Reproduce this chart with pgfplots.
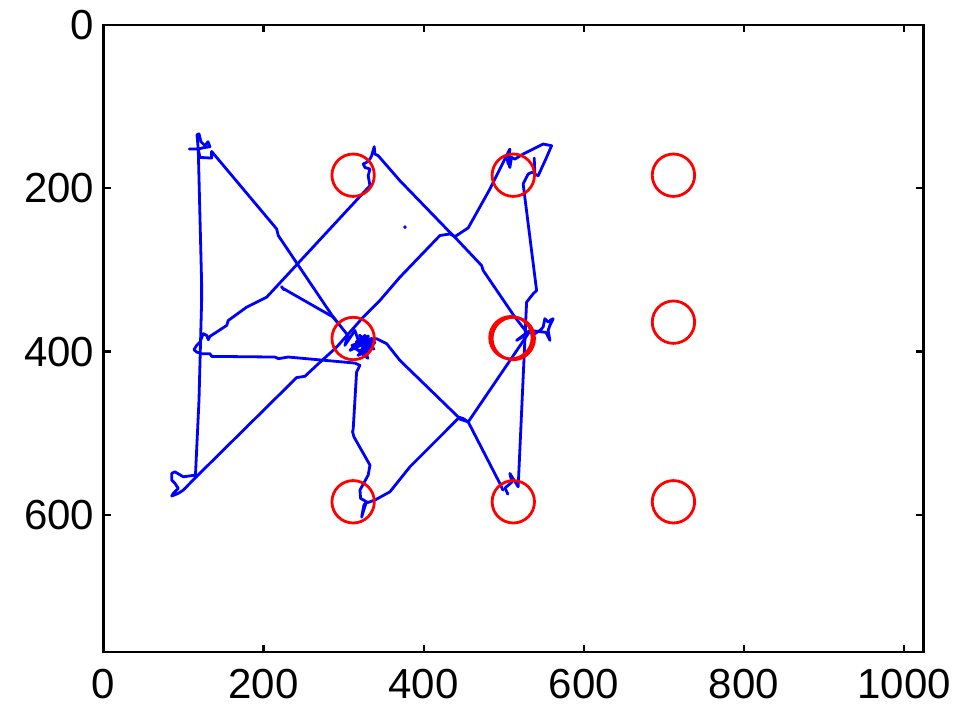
\documentclass[border=0pt]{standalone}
\usepackage{fontspec}
\setmainfont{Liberation Sans}
\usepackage{pgfplots}
\pgfplotsset{compat=1.18}

\begin{document}
\begin{tikzpicture}
\begin{axis}[
  scale only axis,
  width=410pt, height=313.5pt,
  xmin=0, xmax=1024, ymin=0, ymax=768,
  y dir=reverse,
  xtick={0,200,...,1000}, ytick={0,200,400,600},
  tick align=inside,
  major tick length=3.7pt,
  xtick pos=both, ytick pos=both,
  axis line style={line width=1.3pt},
  tick style={line width=1.1pt, black},
  ticklabel style={font=\fontsize{21}{25}\selectfont},
  /pgf/number format/assume math mode=true,
  /pgf/number format/1000 sep={},
  xticklabel style={yshift=-5pt},
  yticklabel style={xshift=-1pt},
  clip=false,
  every axis plot/.append style={line join=round, line cap=round},
]
% target circles
\addplot[only marks, mark=o, mark size=10.6pt, red, mark options={line width=1.4pt}]
  coordinates {(312,184) (512,184) (712,184) (312,384) (512,384) (509,383) (712,364) (312,584) (512,584) (712,584)};

% gaze trace: top-left, down the left side, back up through the centre to the top of column two and down
\addplot[blue, line width=1.4pt] coordinates {
(107.4,152.0) (118.6,152.0) (117.0,134.5) (119.5,133.3) (122.0,143.0) (127.0,147.9)
(130.7,143.0) (133.2,149.1) (124.5,150.4) (118.6,152.0)
(122.8,317.0) (122.8,337.4) (119.5,459.7) (115.1,551.3)
(99.9,553.4) (89.5,547.3) (85.4,549.3) (85.4,557.5) (89.5,561.5) (93.6,567.6)
(87.4,573.7) (85.4,577.0) (93.6,573.7) (99.9,569.7)
(114.5,555.0) (162.3,508.6) (241.4,431.9) (251.8,430.3) (266.4,416.9) (291.4,394.5)
(324.6,357.8) (345.4,337.4) (370.4,308.9) (420.3,257.9) (432.8,255.9) (439.1,259.2)
(455.7,248.5) (482.8,200.9) (507.7,152.0)
(505.6,170.3) (503.6,160.1) (507.7,174.5) (509.8,162.2) (514.0,164.2) (524.3,158.1)
(549.3,145.8) (559.8,147.9) (553.5,162.2) (543.1,184.6) (538.9,182.5) (538.1,163.0)
(538.9,180.6) (534.8,180.6) (530.6,182.5) (524.3,194.7)
(541.1,325.2) (536.8,329.2) (528.6,339.5) (518.1,565.6)
(507.7,549.3) (510.2,559.9) (501.5,567.2) (505.2,574.6)
};

% top-left cluster into the centre circle
\addplot[blue, line width=1.4pt] coordinates {
(118.6,152.0) (120.7,162.2) (135.3,163.0) (135.3,154.9) (216.5,249.8) (218.5,257.9)
(287.1,357.8) (295.5,368.0)
};

% short stroke into the centre circle
\addplot[blue, line width=1.4pt] coordinates {
(222.5,320.5) (226.0,324.5) (224.0,322.4) (287.1,357.8) (295.5,368.0)
};

% fixation scribble in the centre circle, then on to the bottom of column two
\addplot[blue, line width=1.4pt] coordinates {
(295.5,368.0) (305.5,380.2) (301.7,392.4) (314.2,374.1) (320.5,392.4) (308.0,398.5)
(326.7,380.2) (333.0,398.5) (318.0,404.6) (339.2,388.8) (323.0,386.3) (330.4,408.3)
(310.5,392.4) (335.4,383.9) (327.0,395.0) (316.0,388.0) (331.0,381.0) (322.0,399.0)
(336.0,392.0) (319.0,384.0) (329.0,402.0) (313.0,396.0) (334.0,387.0) (325.0,391.0)
(338.0,397.0) (320.0,380.0) (328.0,386.0) (341.3,384.2)
(353.8,390.3) (370.4,410.8) (443.2,480.1) (449.4,482.0) (455.7,486.2)
(495.2,561.5) (499.0,569.7)
};

% loop through column one and column two
\addplot[blue, line width=1.4pt] coordinates {
(530.6,378.1) (455.7,486.2) (443.2,482.0) (382.9,541.2) (357.9,571.8) (339.2,581.9)
(328.0,585.6) (322.6,602.7) (325.5,588.0) (328.8,584.0) (321.3,579.8) (320.5,569.7)
(330.8,551.3) (333.0,539.1) (313.0,504.5) (311.3,498.4) (312.1,494.3) (316.3,425.1)
(320.5,416.9) (314.2,414.1) (231.0,406.7) (218.5,408.7) (214.4,406.7) (135.3,405.9)
(133.2,402.6) (122.8,402.6) (116.6,400.6) (113.2,397.7) (116.6,392.4) (120.7,388.4)
(124.8,378.1) (129.1,380.2) (131.1,385.5) (133.2,381.4) (154.1,368.0) (156.1,361.9)
(179.0,345.6) (204.0,333.4) (333.0,196.8) (330.8,184.6) (333.0,176.4) (326.7,174.5)
(324.6,170.3) (328.8,168.3) (333.0,164.2) (335.1,160.1) (338.3,149.1) (339.2,158.1)
(343.3,160.1) (370.4,190.7) (430.7,251.8) (439.1,260.0) (472.4,294.6) (474.4,300.7)
(514.0,357.8) (528.6,376.2) (538.9,378.1) (545.2,374.1) (549.3,370.0) (551.4,359.8)
(555.5,363.9) (559.8,360.6) (561.8,359.8) (557.7,368.0) (555.5,374.1) (557.7,386.3)
(552.7,376.5) (532.7,374.1) (516.1,386.3) (530.6,378.1)
};

% isolated sample
\addplot[only marks, mark=*, mark size=0.7pt, blue] coordinates {(376.7,247.6)};

\coordinate (bl) at (axis cs:0,768);
\coordinate (tr) at (axis cs:1024,0);
\end{axis}
\pgfresetboundingbox
\path[use as bounding box] ([shift={(-51.65pt,-29.5pt)}]bl) rectangle ([shift={(17.35pt,12.5pt)}]tr);
\end{tikzpicture}
\end{document}
